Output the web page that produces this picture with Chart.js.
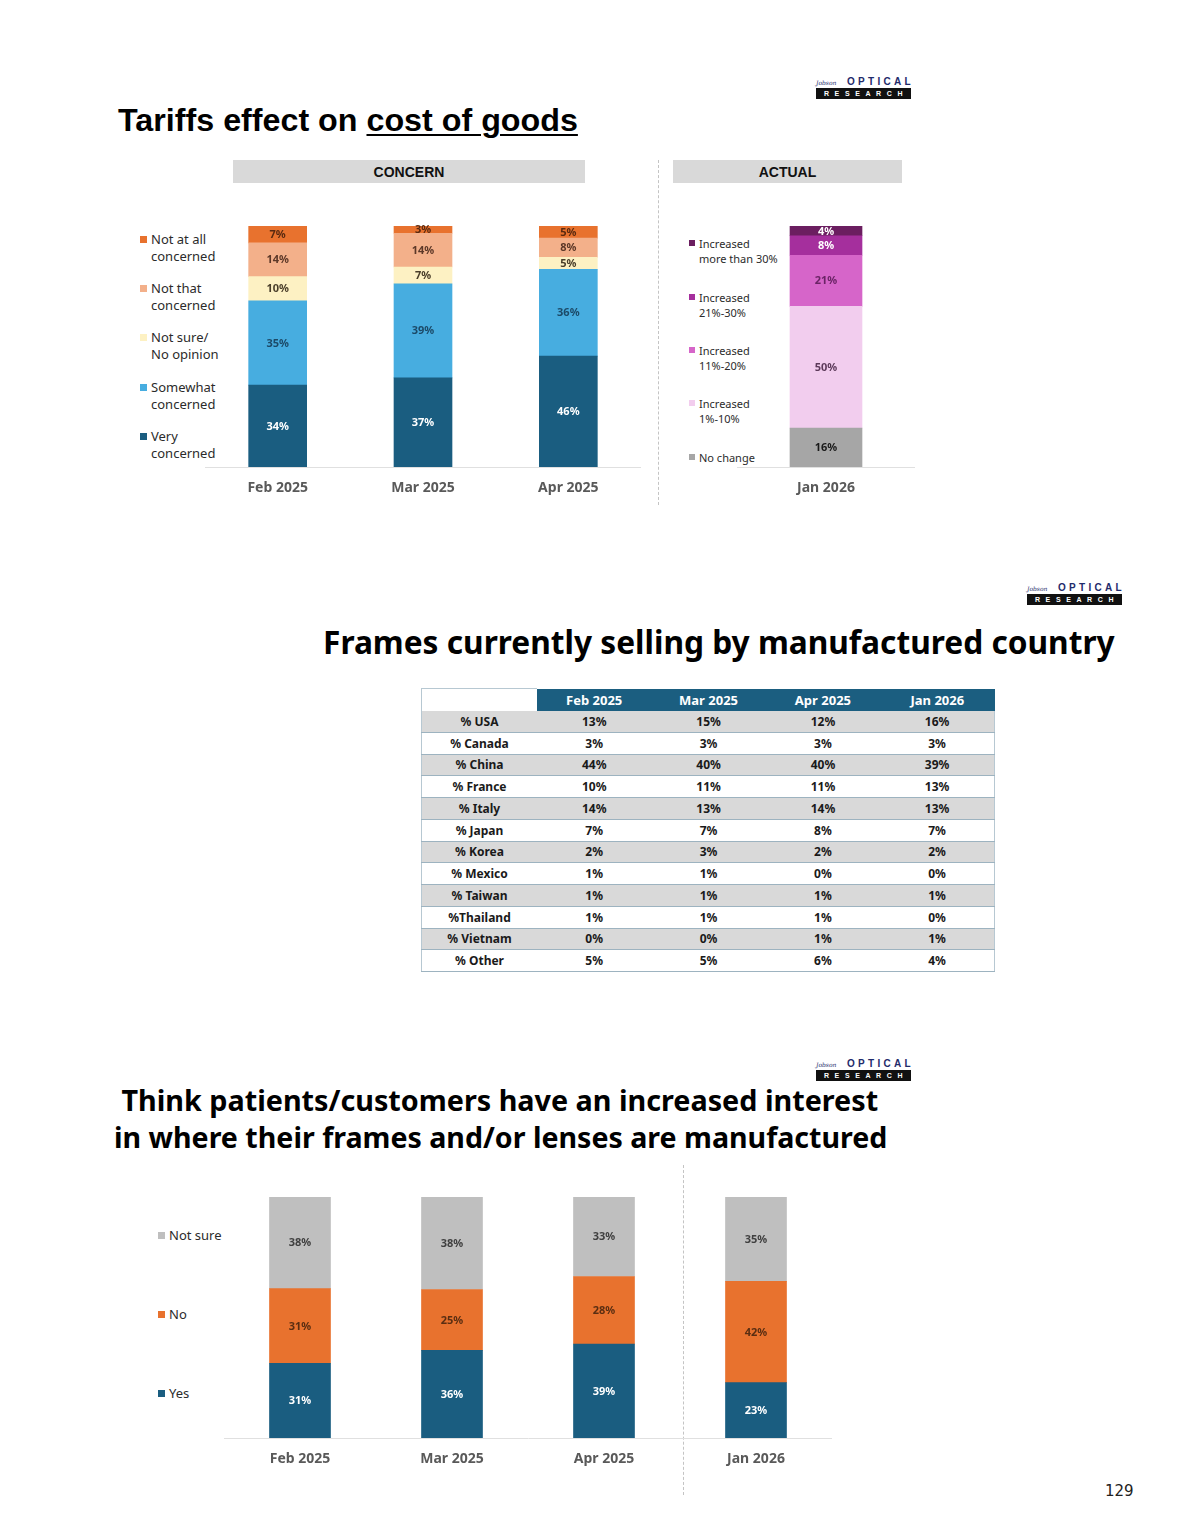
<!DOCTYPE html>
<html>
<head>
<meta charset="utf-8">
<script src="https://cdn.jsdelivr.net/npm/chart.js@4.4.1/dist/chart.umd.min.js"></script>
<style>
html,body{margin:0;padding:0;background:#fff;}
#page{position:relative;width:1200px;height:1535px;overflow:hidden;font-family:"Noto Sans",Arial,sans-serif;background:#fff;}
.abs{position:absolute;}
.title{position:absolute;white-space:nowrap;font-weight:700;color:#000;line-height:1;}
.hdr{position:absolute;background:#d9d9d9;height:23px;text-align:center;font:bold 14px "Liberation Sans",Arial,sans-serif;line-height:24px;color:#111;}
.dash{position:absolute;width:0;border-left:1px dashed #c4c4c4;}
.logo{position:absolute;width:95px;}
.logo .l1{height:11px;display:flex;align-items:flex-end;justify-content:space-between;overflow:visible;}
.logo .jb{font:italic 6px "DejaVu Serif",serif;color:#2a3370;line-height:8px;}
.logo .op{font:bold 10px "Liberation Sans",Arial,sans-serif;letter-spacing:3.3px;color:#1f2b6b;line-height:10px;margin-right:-3px;}
.logo .l2{margin-top:1px;background:#111;color:#fff;font:bold 7px "Liberation Sans",Arial,sans-serif;letter-spacing:5.6px;text-indent:5px;text-align:center;height:11px;line-height:11px;}
.leg{position:absolute;color:#2b2b2b;white-space:nowrap;}
.leg .sw{position:absolute;width:7px;height:7px;}
.leg .tx{position:absolute;}
canvas{position:absolute;}
table.ct{position:absolute;left:421px;top:688px;width:574px;border-collapse:collapse;table-layout:fixed;font-family:"Noto Sans",Arial,sans-serif;}
table.ct td,table.ct th{padding:0;text-align:center;font-size:12px;font-weight:700;color:#1a1a1a;border-bottom:1.5px solid #9db3c0;}
table.ct th{background:#1b5e80;color:#fff;font-size:13px;height:22px;border-bottom:none;}
table.ct th.blank{background:#fff;border-left:1.5px solid #b7c8d2;border-top:1.5px solid #b7c8d2;}
table.ct tr.g td{background:#d9d9d9;}
table.ct tr.w td{background:#fff;}
table.ct td{height:20.75px;}
table.ct tr td:first-child{border-left:1.5px solid #b7c8d2;}
table.ct tr td:last-child{border-right:1.5px solid #b7c8d2;}
</style>
</head>
<body>
<div id="page"></div>
<script>
// ---------------- DATA ----------------
// Section 1: Tariffs effect on cost of goods
const concernCategories = ['Feb 2025', 'Mar 2025', 'Apr 2025'];
const veryConcerned      = [34, 37, 46];
const somewhatConcerned  = [35, 39, 36];
const notSureNoOpinion   = [10, 7, 5];
const notThatConcerned   = [14, 14, 8];
const notAtAllConcerned  = [7, 3, 5];
const concernLegend = [
  ['Not at all', 'concerned'],
  ['Not that', 'concerned'],
  ['Not sure/', 'No opinion'],
  ['Somewhat', 'concerned'],
  ['Very', 'concerned']
];

const actualCategories = ['Jan 2026'];
const noChange     = [16];
const inc1to10     = [50];
const inc11to20    = [21];
const inc21to30    = [8];
const incOver30    = [4];
const actualLegend = [
  ['Increased', 'more than 30%'],
  ['Increased', '21%-30%'],
  ['Increased', '11%-20%'],
  ['Increased', '1%-10%'],
  ['No change']
];

// Section 2: Frames currently selling by manufactured country
const tableColumns = ['Feb 2025', 'Mar 2025', 'Apr 2025', 'Jan 2026'];
const tableRowLabels = ['% USA', '% Canada', '% China', '% France', '% Italy', '% Japan', '% Korea', '% Mexico', '% Taiwan', '%Thailand', '% Vietnam', '% Other'];
const usa      = [13, 15, 12, 16];
const canada   = [3, 3, 3, 3];
const china    = [44, 40, 40, 39];
const france   = [10, 11, 11, 13];
const italy    = [14, 13, 14, 13];
const japan    = [7, 7, 8, 7];
const korea    = [2, 3, 2, 2];
const mexico   = [1, 1, 0, 0];
const taiwan   = [1, 1, 1, 1];
const thailand = [1, 1, 1, 0];
const vietnam  = [0, 0, 1, 1];
const other    = [5, 5, 6, 4];

// Section 3: Increased interest in where frames/lenses are manufactured
const interestCategories = ['Feb 2025', 'Mar 2025', 'Apr 2025', 'Jan 2026'];
const interestYes     = [31, 36, 39, 23];
const interestNo      = [31, 25, 28, 42];
const interestNotSure = [38, 38, 33, 35];
const interestLegend = [['Not sure'], ['No'], ['Yes']];

// ---------------- PAGE ----------------
const page = document.getElementById('page');
function el(tag, cls, style, html) {
  const e = document.createElement(tag);
  if (cls) e.className = cls;
  if (style) e.style.cssText = style;
  if (html !== undefined) e.innerHTML = html;
  page.appendChild(e);
  return e;
}
function fitWidth(e, target) {
  e.style.fontSize = '40px';
  const w = e.getBoundingClientRect().width;
  const fs = 40 * target / w;
  e.style.fontSize = fs + 'px';
  return fs;
}
function logo(x, y) {
  el('div', 'logo', `left:${x}px;top:${y}px`,
    '<div class="l1"><span class="jb">Jobson</span><span class="op">OPTICAL</span></div><div class="l2">RESEARCH</div>');
}

// Logos
logo(816, 76);
logo(1027, 582);
logo(816, 1058);

// Titles
const t1 = el('div', 'title', 'left:118px;font-family:"Liberation Sans",Arial,sans-serif;',
  'Tariffs effect on <span style="text-decoration:underline;text-decoration-thickness:2px;text-underline-offset:3px">cost of goods</span>');
let fs1 = fitWidth(t1, 460);
t1.style.top = (131 - 0.8465 * fs1) + 'px';

const t2 = el('div', 'title', 'font-family:"Noto Sans",sans-serif;', 'Frames currently selling by manufactured country');
let fs2 = fitWidth(t2, 792);
t2.style.left = (719 - 396) + 'px';
t2.style.top = (654 - 0.888 * fs2) + 'px';

const t3a = el('div', 'title', 'font-family:"Noto Sans",sans-serif;', 'Think patients/customers have an increased interest');
let fs3a = fitWidth(t3a, 757);
t3a.style.left = (500 - 757 / 2) + 'px';
t3a.style.top = (1112 - 0.888 * fs3a) + 'px';
const t3b = el('div', 'title', 'font-family:"Noto Sans",sans-serif;', 'in where their frames and/or lenses are manufactured');
let fs3b = fitWidth(t3b, 774);
t3b.style.left = (501 - 774 / 2) + 'px';
t3b.style.top = (1148 - 0.888 * fs3b) + 'px';

// Section header boxes
el('div', 'hdr', 'left:233px;top:160px;width:352px;', 'CONCERN');
el('div', 'hdr', 'left:673px;top:160px;width:229px;', 'ACTUAL');

// Dashed separators
el('div', 'dash', 'left:658px;top:160px;height:345px;');
el('div', 'dash', 'left:683px;top:1165px;height:330px;');

// Page number
el('div', 'abs', 'left:1105px;top:1482px;font:15px "DejaVu Sans",sans-serif;color:#222;', '129');

// Legends
function legend(items, colors, x, centers, fontSize, lineH, textDx, swSize) {
  items.forEach((lines, i) => {
    const cy = centers[i];
    const box = el('div', 'leg', `left:${x}px;top:${cy - lineH / 2}px;font-size:${fontSize}px;line-height:${lineH}px;`);
    box.innerHTML = `<div class="sw" style="left:0;top:${lineH / 2 - swSize / 2}px;width:${swSize}px;height:${swSize}px;background:${colors[i]}"></div>` +
      `<div class="tx" style="left:${textDx}px;top:0">${lines.join('<br>')}</div>`;
  });
}

// ---------------- COLORS ----------------
const C_VERY = '#1a5d80', C_SOME = '#47ade0', C_NOTSURE = '#fdf1c3', C_NOTTHAT = '#f3b08a', C_NOTALL = '#e8722e';
const C_NOCH = '#a6a6a6', C_I1 = '#f2cdee', C_I2 = '#d665c9', C_I3 = '#a52f9d', C_I4 = '#6b1e60';
const C_YES = '#1a5d80', C_NO = '#e8722e', C_NS = '#bfbfbf';

legend(concernLegend, [C_NOTALL, C_NOTTHAT, C_NOTSURE, C_SOME, C_VERY], 140, [239, 288, 337, 387, 436], 13, 17, 11, 7);
legend(actualLegend, [C_I4, C_I3, C_I2, C_I1, C_NOCH], 689, [243, 297, 350, 403, 457], 11, 15, 10, 6);
legend(interestLegend, [C_NS, C_NO, C_YES], 158, [1235, 1314, 1393], 13, 17, 11, 7);

// ---------------- TABLE ----------------
const tableValues = [usa, canada, china, france, italy, japan, korea, mexico, taiwan, thailand, vietnam, other];
let th = '<tr><th class="blank" style="width:115px"></th>' + tableColumns.map(c => `<th>${c}</th>`).join('') + '</tr>';
tableRowLabels.forEach((r, i) => {
  th += `<tr class="${i % 2 === 0 ? 'g' : 'w'}"><td>${r}</td>` + tableValues[i].map(v => `<td>${v}%</td>`).join('') + '</tr>';
});
const tbl = document.createElement('table');
tbl.className = 'ct';
tbl.innerHTML = th;
page.appendChild(tbl);

// ---------------- CHARTS ----------------
Chart.defaults.font.family = "'Noto Sans', sans-serif";

const valueLabels = {
  id: 'valueLabels',
  afterDatasetsDraw(chart) {
    const ctx = chart.ctx;
    chart.data.datasets.forEach((ds, i) => {
      const meta = chart.getDatasetMeta(i);
      meta.data.forEach((bar, j) => {
        const raw = ds.rawValues[j];
        ctx.save();
        ctx.fillStyle = ds.labelColor;
        ctx.font = `bold ${ds.labelSize || 11}px 'Noto Sans', sans-serif`;
        ctx.textAlign = 'center';
        ctx.textBaseline = 'middle';
        ctx.fillText(raw + '%', bar.x, (bar.y + bar.base) / 2 + 0.5);
        ctx.restore();
      });
    });
  }
};

function makeCanvas(x, y, w, h) {
  const c = document.createElement('canvas');
  c.width = w; c.height = h;
  c.style.left = x + 'px'; c.style.top = y + 'px';
  c.style.width = w + 'px'; c.style.height = h + 'px';
  page.appendChild(c);
  return c;
}

function stacked(canvas, categories, series, barThickness, labelSize) {
  // 100% stacked: each column normalised to its total, labels show raw values
  const totals = categories.map((_, j) => series.reduce((s, d) => s + d.values[j], 0));
  return new Chart(canvas, {
    type: 'bar',
    data: {
      labels: categories,
      datasets: series.map(s => ({
        label: s.name,
        data: s.values.map((v, j) => v / totals[j] * 100),
        rawValues: s.values,
        backgroundColor: s.color,
        labelColor: s.labelColor,
        labelSize: labelSize,
        borderWidth: 0,
        barThickness: barThickness
      }))
    },
    options: {
      responsive: false,
      animation: false,
      events: [],
      layout: { padding: { top: 10, left: 0, right: 0, bottom: 0 } },
      plugins: { legend: { display: false }, tooltip: { enabled: false } },
      scales: {
        x: {
          stacked: true,
          grid: { display: false, drawTicks: false },
          border: { display: true, color: '#e0e0e0', width: 1 },
          ticks: { color: '#595959', font: { size: 14, weight: 'bold' }, padding: 13 },
          afterFit: s => { s.height = 45; }
        },
        y: { stacked: true, display: false, min: 0, max: 100 }
      }
    },
    plugins: [valueLabels]
  });
}

stacked(makeCanvas(205, 216, 436, 296), concernCategories, [
  { name: 'Very concerned', values: veryConcerned, color: C_VERY, labelColor: '#ffffff' },
  { name: 'Somewhat concerned', values: somewhatConcerned, color: C_SOME, labelColor: '#1c4a68' },
  { name: 'Not sure/ No opinion', values: notSureNoOpinion, color: C_NOTSURE, labelColor: '#4a3e2a' },
  { name: 'Not that concerned', values: notThatConcerned, color: C_NOTTHAT, labelColor: '#5c3828' },
  { name: 'Not at all concerned', values: notAtAllConcerned, color: C_NOTALL, labelColor: '#5a2a10' }
], 58, 11);

stacked(makeCanvas(737, 216, 178, 296), actualCategories, [
  { name: 'No change', values: noChange, color: C_NOCH, labelColor: '#1a1a1a' },
  { name: 'Increased 1%-10%', values: inc1to10, color: C_I1, labelColor: '#5d3a5a' },
  { name: 'Increased 11%-20%', values: inc11to20, color: C_I2, labelColor: '#6b2466' },
  { name: 'Increased 21%-30%', values: inc21to30, color: C_I3, labelColor: '#ffffff' },
  { name: 'Increased more than 30%', values: incOver30, color: C_I4, labelColor: '#ffffff' }
], 72, 11);

stacked(makeCanvas(224, 1187, 608, 296), interestCategories, [
  { name: 'Yes', values: interestYes, color: C_YES, labelColor: '#ffffff' },
  { name: 'No', values: interestNo, color: C_NO, labelColor: '#5a2e12' },
  { name: 'Not sure', values: interestNotSure, color: C_NS, labelColor: '#404040' }
], 61, 11);
</script>
</body>
</html>
